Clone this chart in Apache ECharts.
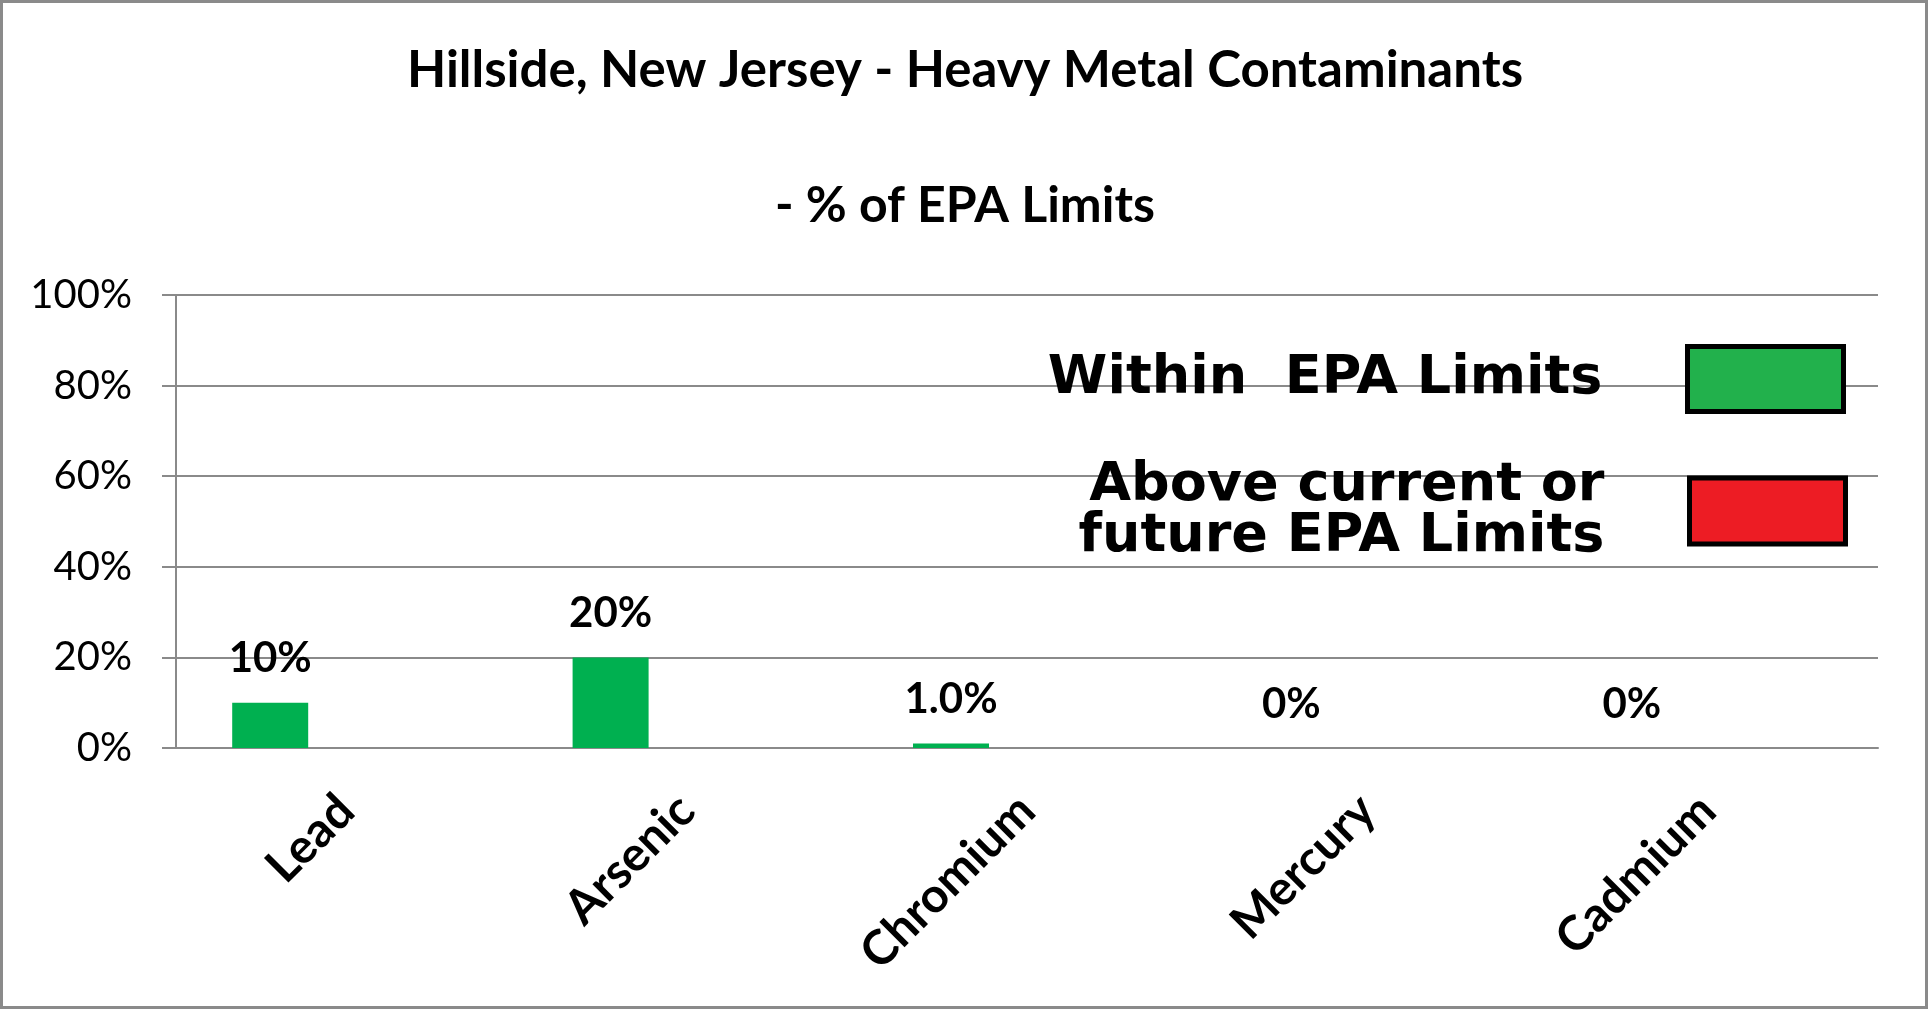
<!DOCTYPE html>
<html>
<head>
<meta charset="utf-8">
<title>Hillside, New Jersey - Heavy Metal Contaminants</title>
<script src="https://cdn.jsdelivr.net/npm/echarts@6/dist/echarts.min.js"></script>
<style>
  html, body { margin: 0; padding: 0; background: #fff; }
  #chart { width: 1930px; height: 1011px; }
</style>
</head>
<body>
<div id="chart"></div>
<script>
// data
var metals = ['Lead', 'Arsenic', 'Chromium', 'Mercury', 'Cadmium'];
var withinLimits = [10, 20, 1, 0, 0];
var aboveLimits = [0, 0, 0, 0, 0];
var otherSeries = [0, 0, 0, 0, 0];
var valueLabels = ['10%', '20%', '1.0%', '0%', '0%'];
var yTicks = [0, 20, 40, 60, 80, 100];

var mainFont = 'Lato, "Liberation Sans", sans-serif';
var legendFont = '"DejaVu Sans", sans-serif';
var gridGrey = '#8a8a8a';

var chart = echarts.init(document.getElementById('chart'));

var option = {
    backgroundColor: '#fff',
    animation: false,
    title: {
        text: 'Hillside, New Jersey - Heavy Metal Contaminants',
        subtext: '- % of EPA Limits',
        left: 'center',
        top: 45,
        itemGap: 85,
        padding: 0,
        textStyle: { fontFamily: mainFont, fontWeight: 'bold', fontSize: 51, color: '#000' },
        subtextStyle: { fontFamily: mainFont, fontWeight: 'bold', fontSize: 50, color: '#000' }
    },
    legend: [{
        orient: 'vertical',
        align: 'right',
        right: 84,
        top: 344,
        padding: 0,
        itemWidth: 156,
        itemHeight: 65,
        selectedMode: false,
        textStyle: { fontFamily: legendFont, fontWeight: 'bold', fontSize: 54, color: '#000', padding: [0, 80, 20, 0] },
        data: [{ name: 'Within EPA Limits', icon: 'rect',
                 itemStyle: { color: '#22B14C', borderColor: '#000', borderWidth: 5 } }],
        formatter: function () { return 'Within  EPA Limits'; }
    }, {
        orient: 'vertical',
        align: 'right',
        right: 82,
        top: 445,
        padding: 0,
        itemWidth: 156,
        itemHeight: 66,
        selectedMode: false,
        textStyle: { fontFamily: legendFont, fontWeight: 'bold', fontSize: 54, lineHeight: 51, color: '#000', padding: [30, 80, 0, 0] },
        data: [{ name: 'Above current or future EPA Limits', icon: 'rect',
                 itemStyle: { color: '#ED1C24', borderColor: '#000', borderWidth: 5 } }],
        formatter: function () { return 'Above current or\nfuture EPA Limits'; }
    }],
    grid: { left: 176, right: 52, top: 295, bottom: 263 },
    xAxis: {
        type: 'category',
        data: metals,
        axisLine: { lineStyle: { color: gridGrey, width: 2 } },
        axisTick: { length: 15, lineStyle: { color: gridGrey, width: 2 } },
        axisLabel: {
            rotate: 45,
            margin: 55,
            interval: 0,
            fontFamily: mainFont,
            fontWeight: 'bold',
            fontSize: 48,
            color: '#000'
        }
    },
    yAxis: {
        type: 'value',
        min: yTicks[0],
        max: yTicks[yTicks.length - 1],
        interval: 20,
        axisLine: { show: true, lineStyle: { color: gridGrey, width: 2 } },
        axisTick: { show: true, length: 14, lineStyle: { color: gridGrey, width: 2 } },
        splitLine: { lineStyle: { color: gridGrey, width: 2 } },
        axisLabel: {
            margin: 44,
            fontFamily: mainFont,
            fontSize: 40,
            color: '#000',
            formatter: '{value}%'
        }
    },
    series: [{
        name: 'Within EPA Limits',
        type: 'bar',
        data: withinLimits,
        barWidth: 76,
        barGap: '0%',
        itemStyle: { color: '#00B050' },
        label: {
            show: true,
            position: 'top',
            distance: 23,
            fontFamily: mainFont,
            fontWeight: 'bold',
            fontSize: 42,
            color: '#000',
            formatter: function (p) { return valueLabels[p.dataIndex]; }
        }
    }, {
        name: 'Above current or future EPA Limits',
        type: 'bar',
        data: aboveLimits,
        barWidth: 76,
        barGap: '0%',
        itemStyle: { color: '#ED1C24' }
    }, {
        name: 'other',
        type: 'bar',
        data: otherSeries,
        barWidth: 76,
        barGap: '0%',
        itemStyle: { color: '#ffc000' }
    }],
    graphic: [{
        type: 'rect',
        shape: { x: 1.5, y: 1.5, width: 1925, height: 1006 },
        style: { fill: null, stroke: '#8a8a8a', lineWidth: 3 },
        silent: true
    }]
};

chart.setOption(option);
</script>
</body>
</html>
